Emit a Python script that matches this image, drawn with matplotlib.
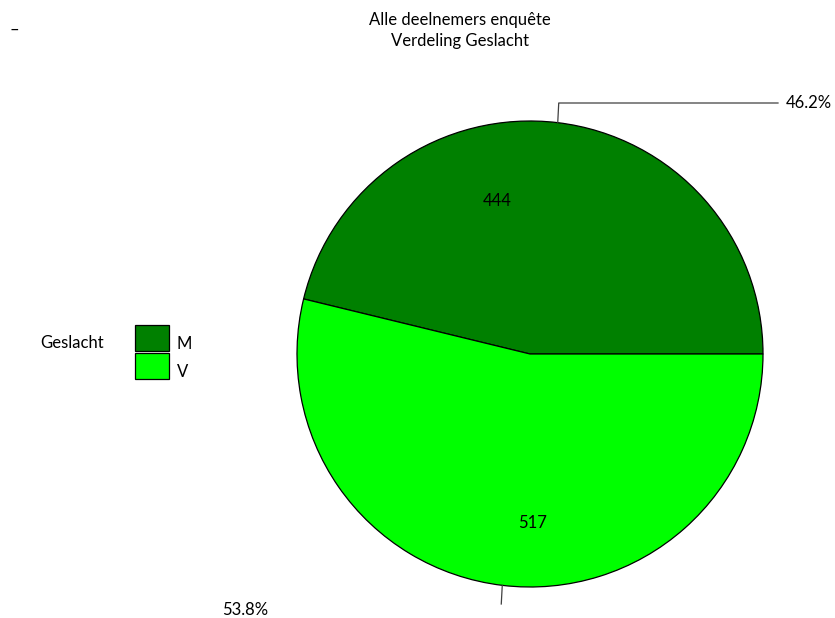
import numpy as np
import matplotlib
matplotlib.use("Agg")
import matplotlib.pyplot as plt
from matplotlib.patches import Rectangle

plt.rcParams['font.family'] = ['Lato', 'DejaVu Sans']

categories = ["M", "V"]
counts = [444, 517]
colors = ["#008000", "#00FF00"]
title_lines = ["Alle deelnemers enquête", "Verdeling Geslacht"]
legend_title = "Geslacht"

W, H = 835, 618
fig = plt.figure(figsize=(W / 100, H / 100), dpi=100)
ax = fig.add_axes([0, 0, 1, 1])

cx, cy, r = 530, H - 354, 233
wedges, _ = ax.pie(counts, colors=colors, startangle=0, counterclock=True,
                   center=(cx, cy), radius=r, frame=True,
                   wedgeprops=dict(edgecolor="black", linewidth=0.9))
ax.set_xlim(0, W)
ax.set_ylim(0, H)
ax.set_aspect("equal")
ax.axis("off")

total = sum(counts)
fs = 12

# count labels inside the slices
count_pos = [(102, 0.67), (-89, 0.725)]
for n, (ang, frac) in zip(counts, count_pos):
    a = np.deg2rad(ang)
    ax.text(cx + frac * r * np.cos(a), cy + frac * r * np.sin(a), str(n),
            ha="center", va="center", fontsize=fs, color="black")

# percentage labels with leader lines
mids = [(w.theta1 + w.theta2) / 2 for w in wedges]
pcts = [100 * c / total for c in counts]

a = np.deg2rad(mids[0])
x0, y0 = cx + r * np.cos(a), cy + r * np.sin(a)
x1, y1 = x0 + 1, H - 103
ax.plot([x0, x1, 778], [y0, y1, y1], color="#404040", lw=0.9)
ax.text(786, y1, f"{pcts[0]:.1f}%", ha="left", va="center", fontsize=fs)

a = np.deg2rad(mids[1])
x0, y0 = cx + r * np.cos(a), cy + r * np.sin(a)
ax.plot([x0, x0 - 1], [y0, H - 604], color="#404040", lw=0.9)
ax.text(245, H - 610, f"{pcts[1]:.1f}%", ha="center", va="center", fontsize=fs)

# title
ax.text(460, H - 20, title_lines[0], ha="center", va="center", fontsize=fs)
ax.text(460, H - 41, title_lines[1], ha="center", va="center", fontsize=fs)
ax.text(14, H - 30, "–", ha="center", va="center", fontsize=fs)

# legend
ax.text(40, H - 343, legend_title, ha="left", va="center", fontsize=fs)
for i, (lab, col) in enumerate(zip(categories, colors)):
    top = 325 + i * 28
    ax.add_patch(Rectangle((135, H - top - 26), 34, 26, facecolor=col,
                           edgecolor="black", lw=0.9))
    ax.text(177, H - top - 19, lab, ha="left", va="center", fontsize=fs)

fig.savefig("out.png", dpi=100)
